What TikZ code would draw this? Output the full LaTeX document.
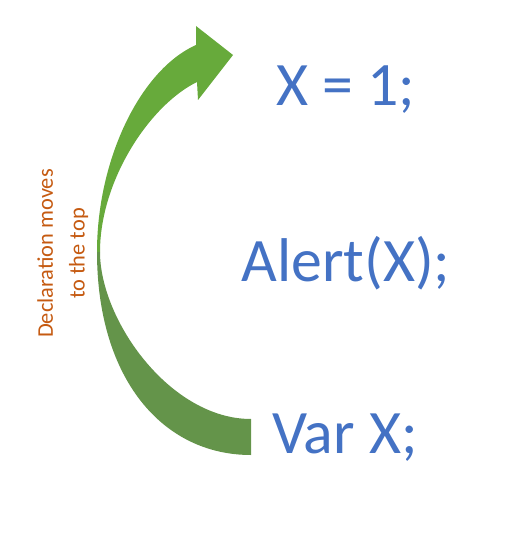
\documentclass[tikz,border=0pt]{standalone}
\usepackage{fontspec}
\setmainfont{Carlito}
\usepackage{tikz}
\usepackage{xcolor}
\usetikzlibrary{positioning}
\definecolor{Code_Blue}{HTML}{4472C4}
\definecolor{Note_Orange}{HTML}{C55A11}
\definecolor{Arrow_Light}{HTML}{67AA3B}
\definecolor{Arrow_Dark}{HTML}{64944A}

\begin{document}
\begin{tikzpicture}[x=1bp, y=-1bp,
    codeline/.style={anchor=base, inner sep=0pt, color=Code_Blue, font=\fontsize{62}{74}\selectfont},
    notetext/.style={rotate=90, align=center, inner sep=0pt, color=Note_Orange, font=\fontsize{22.5}{32}\selectfont}]
    \useasboundingbox (0,0) rectangle (510,546);

    % Curved Arrow (upper half with head)
    \fill[Arrow_Light] (97,252) .. controls (97,160) and (140,70) .. (196,45)
        -- (196,26) -- (233,55) -- (198,100) -- (197,82)
        .. controls (150,105) and (100,180) .. (100,252) -- cycle;
    % Curved Arrow (lower half, tail)
    \fill[Arrow_Dark] (97,252) .. controls (97,378) and (162,455) .. (251,455)
        -- (251,419) .. controls (170,419) and (100,320) .. (100,252) -- cycle;

    % Code Lines
    \node[codeline] (assign) at (346,106) {X = 1;};
    \node[codeline] (alert) at (346,281) {Alert(X);};
    \node[codeline] (declare) at (345,453) {Var X;};

    % Note
    \node[notetext] (hoist) at (62.8,253.5) {Declaration moves\\to the top};
\end{tikzpicture}
\end{document}
